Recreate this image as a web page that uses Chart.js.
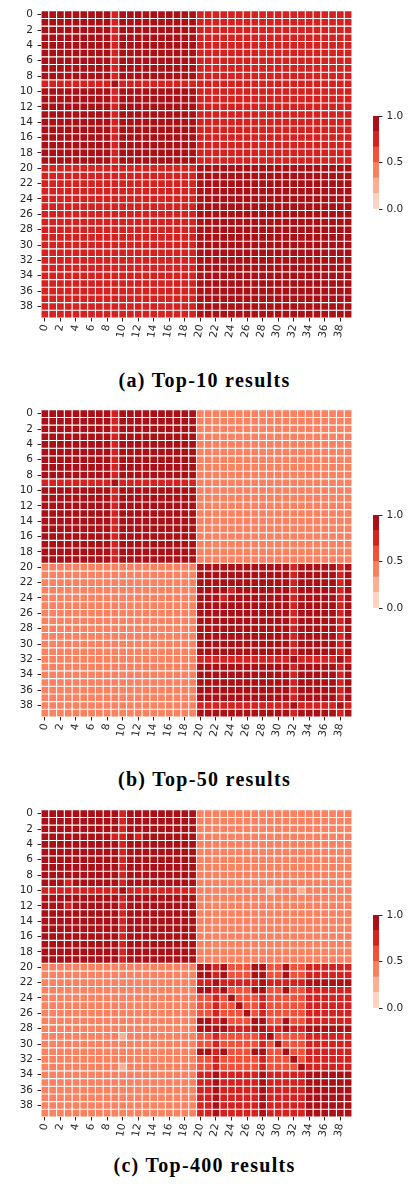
<!DOCTYPE html>
<html>
<head>
<meta charset="utf-8">
<title>Top-k result similarity heatmaps</title>
<script src="https://cdn.jsdelivr.net/npm/chart.js@4.4.1/dist/chart.umd.min.js"></script>
<style>
    html, body { margin: 0; padding: 0; background: #fff; }
    body { width: 409px; height: 1193px; position: relative; overflow: hidden; }
    canvas { position: absolute; }
    .caption {
        position: absolute; left: 0; width: 409px; text-align: center;
        font: bold 20px "Liberation Serif", serif; letter-spacing: 1.3px;
        color: #000; line-height: 22px;
    }
</style>
</head>
<body>
<canvas id="heat-a" width="409" height="350" style="left:0;top:0"></canvas>
<canvas id="cbar-a" width="54" height="125" style="left:355px;top:100px"></canvas>
<div class="caption" style="top:369px">(a) Top-10 results</div>

<canvas id="heat-b" width="409" height="350" style="left:0;top:399px"></canvas>
<canvas id="cbar-b" width="54" height="125" style="left:355px;top:499px"></canvas>
<div class="caption" style="top:768px">(b) Top-50 results</div>

<canvas id="heat-c" width="409" height="350" style="left:0;top:799px"></canvas>
<canvas id="cbar-c" width="54" height="125" style="left:355px;top:899px"></canvas>
<div class="caption" style="top:1154px">(c) Top-400 results</div>

<script>
// --- Data ---
// item ids on both axes
const itemLabels = ['0', '1', '2', '3', '4', '5', '6', '7', '8', '9',
    '10', '11', '12', '13', '14', '15', '16', '17', '18', '19',
    '20', '21', '22', '23', '24', '25', '26', '27', '28', '29',
    '30', '31', '32', '33', '34', '35', '36', '37', '38', '39'];

// colormap: 6 discrete Reds, one per value bin
const paletteReds = ['#fdd4c2', '#fcaf93', '#fc8161', '#f44f39', '#d52221', '#aa1016'];
const binEdges = [0, 1 / 6, 2 / 6, 3 / 6, 4 / 6, 5 / 6, 1];
const colorbarTicks = [0, 0.5, 1];

// representative similarity for each colour bin (digit in the rows below)
const levelValues = [0.08, 0.25, 0.42, 0.58, 0.75, 0.92];

// one string per row, one digit per column (bin 0..5)
const top10Rows = [
    '5555555554 5555555555 4444444444 4444444444', // 0
    '5555555554 5555555555 4444444444 4444444444',
    '5555555554 5555555555 4444444444 4444444444',
    '5555555554 5555555555 4444444444 4444444444',
    '5555555554 5555555555 4444444444 4444444444',
    '5555555554 5555555555 4444444444 4444444444',
    '5555555554 5555555555 4444444444 4444444444',
    '5555555554 5555555555 4444444444 4444444444',
    '5555555554 5555555555 4444444444 4444444444',
    '4444444445 4444444444 4444444444 4444444444', // 9
    '5555555554 5555555555 4444444444 4444444444', // 10
    '5555555554 5555555555 4444444444 4444444444',
    '5555555554 5555555555 4444444444 4444444444',
    '5555555554 5555555555 4444444444 4444444444',
    '5555555554 5555555555 4444444444 4444444444',
    '5555555554 5555555555 4444444444 4444444444',
    '5555555554 5555555555 4444444444 4444444444',
    '5555555554 5555555555 4444444444 4444444444',
    '5555555554 5555555555 4444444444 4444444444',
    '5555555554 5555555555 4444444444 4444444444',
    '4444444444 4444444444 5555555555 5555555555', // 20
    '4444444444 4444444444 5555555555 5555555555',
    '4444444444 4444444444 5555555555 5555555555',
    '4444444444 4444444444 5555555555 5555555555',
    '4444444444 4444444444 5555555555 5555555555',
    '4444444444 4444444444 5555555555 5555555555',
    '4444444444 4444444444 5555555555 5555555555',
    '4444444444 4444444444 5555555555 5555555555',
    '4444444444 4444444444 5555555555 5555555555',
    '4444444444 4444444444 5555555555 5555555555',
    '4444444444 4444444444 5555555555 5555555555', // 30
    '4444444444 4444444444 5555555555 5555555555',
    '4444444444 4444444444 5555555555 5555555555',
    '4444444444 4444444444 5555555555 5555555555',
    '4444444444 4444444444 5555555555 5555555555',
    '4444444444 4444444444 5555555555 5555555555',
    '4444444444 4444444444 5555555555 5555555555',
    '4444444444 4444444444 5555555555 5555555555',
    '4444444444 4444444444 5555555555 5555555555',
    '4444444444 4444444444 5555555555 5555555555'
];

const top50Rows = [
    '5555555554 5555555555 2222222222 2222222222', // 0
    '5555555554 5555555555 2222222222 2222222222',
    '5555555554 5555555555 2222222222 2222222222',
    '5555555554 5555555555 2222222222 2222222222',
    '5555555554 5555555555 2222222222 2222222222',
    '5555555554 5555555555 2222222222 2222222222',
    '5555555554 5555555555 2222222222 2222222222',
    '5555555554 5555555555 2222222222 2222222222',
    '5555555554 5555555555 2222222222 2222222222',
    '4444444445 4444444444 2222222222 2222222222', // 9
    '5555555554 5555555555 2222222222 2222222222', // 10
    '5555555554 5555555555 2222222222 2222222222',
    '5555555554 5555555555 2222222222 2222222222',
    '5555555554 5555555555 2222222222 2222222222',
    '5555555554 5555555555 2222222222 2222222222',
    '5555555554 5555555555 2222222222 2222222222',
    '5555555554 5555555555 2222222222 2222222222',
    '5555555554 5555555555 2222222222 2222222222',
    '5555555554 5555555555 2222222222 2222222222',
    '5555555554 5555555555 2222222222 2222222222',
    '2222222222 2222222222 5555555555 5545555545', // 20
    '2222222222 2222222222 5555555555 5545555545',
    '2222222222 2222222222 5555555555 5545555545',
    '2222222222 2222222222 5555455555 5545555545',
    '2222222222 2222222222 5554555555 5545555545',
    '2222222222 2222222222 5555555555 5545555545',
    '2222222222 2222222222 5555555555 5545555545',
    '2222222222 2222222222 5555555555 5545555545',
    '2222222222 2222222222 5555555555 5545555545',
    '2222222222 2222222222 5555555555 5545555545',
    '2222222222 2222222222 5555555555 5545555545', // 30
    '2222222222 2222222222 5555555555 5545555545',
    '2222222222 2222222222 4444444444 4454444454', // 32
    '2222222222 2222222222 5555555555 5545555545',
    '2222222222 2222222222 5555555555 5545555545',
    '2222222222 2222222222 5555555555 5545555545',
    '2222222222 2222222222 5555555555 5545555545',
    '2222222222 2222222222 5555555555 5545555545',
    '2222222222 2222222222 4444444444 4454444454', // 38
    '2222222222 2222222222 5555555555 5545555545'
];

const top400Rows = [
    '5555555555 4555555555 2222222222 2222222222', // 0
    '5555555555 4555555555 2222222222 2222222222',
    '5555555555 4555555555 2222222222 2222222222',
    '5555555554 4545555555 2222222222 2222222222', // 3
    '5555555555 4555555555 2222222222 2222222222',
    '5555555555 4555555555 2222222222 2222222222',
    '5555555555 4555555555 2222222222 2222222222',
    '5555555555 4555555555 2222222222 2222222222',
    '5555555555 4555555555 2222222222 2222222222',
    '5554555555 4555555555 2222222222 2222222222', // 9
    '4444444444 5444444444 2222222221 2221222222', // 10
    '5555555555 4555555555 2222222222 2222222222',
    '5554555555 4555555555 2222222222 2222222222', // 12
    '5555555555 4555555555 2222222222 2222222222',
    '5555555555 4555555555 2222222222 2222222222',
    '5555555555 4555555555 2222222222 2222222222',
    '5555555555 4555555555 2222222222 2222222222',
    '5555555555 4555555555 2222222222 2222222222',
    '5555555555 4555555555 2222222222 2222222222',
    '5555555555 4555555555 2222222222 2222222222',
    '2222222222 2222222222 5545333553 3533444444', // 20
    '2222222222 2222222222 5545333553 3533444444',
    '2222222222 2222222222 4454444454 4444555555',
    '2222222222 2222222222 5545333553 3533444444',
    '2222222222 2222222222 3343533343 3333444444',
    '2222222222 2222222222 3343353343 3333444444',
    '2222222222 2222222222 3343335343 3333444444',
    '2222222222 2222222222 5545333553 3533444444',
    '2222222222 2222222222 5555444554 4544555555', // 28
    '2222222222 1222222222 3343333345 3333444444',
    '2222222222 2222222222 3343333343 5333444444', // 30
    '2222222222 2222222222 5545333553 3533444444',
    '2222222222 2222222222 3343333343 3353444444',
    '2222222222 1222222222 3343333343 3335444444',
    '2222222222 2222222222 4454444454 4444555555',
    '2222222222 2222222222 4454444454 4444555555',
    '2222222222 2222222222 4454444454 4444555555',
    '2222222222 2222222222 4454444454 4444555555',
    '2222222222 2222222222 4454444454 4444555555',
    '2222222222 2222222222 4454444454 4444555555'
];

// --- Helpers ---
const toMatrix = rows => rows.map(r => r.replace(/ /g, '').split('').map(d => levelValues[+d]));

const colorFor = v => paletteReds[Math.min(paletteReds.length - 1, Math.floor(v * paletteReds.length))];

const INK = '#262626';
Chart.defaults.font.family = '"DejaVu Sans", sans-serif';
Chart.defaults.font.size = 10.5;
Chart.defaults.color = INK;

// only every other id gets a label and a tick mark
const evenTickColor = ctx => (ctx.index % 2 === 0 ? INK : 'rgba(0,0,0,0)');
const evenLabel = (value, index) => (index % 2 === 0 ? itemLabels[index] : '');

// --- Heatmap: one stacked bar dataset per row ---
function makeHeatmap(canvasId, rows) {
    const matrix = toMatrix(rows);

    const datasets = matrix.map((row, r) => ({
        label: itemLabels[r],
        data: row.map((v, c) => ({ x: itemLabels[c], y: 1, v: v })),
        backgroundColor: row.map(colorFor),
        borderColor: '#ffffff',
        borderWidth: 0.55,
        borderSkipped: false,
        inflateAmount: 0,
        barPercentage: 1,
        categoryPercentage: 1,
        stack: 'rows'
    }));

    new Chart(document.getElementById(canvasId), {
        type: 'bar',
        data: { labels: itemLabels, datasets: datasets },
        options: {
            responsive: false,
            animation: false,
            events: [],
            layout: { padding: { left: 0, right: 57, top: 7, bottom: 0 } },
            plugins: { legend: { display: false }, tooltip: { enabled: false } },
            scales: {
                x: {
                    type: 'category',
                    offset: true,
                    grid: { offset: false, drawOnChartArea: false, tickLength: 3.5, tickColor: evenTickColor },
                    border: { display: false },
                    ticks: { autoSkip: false, minRotation: 80, maxRotation: 80, padding: 2, callback: evenLabel },
                    afterFit: scale => { scale.height = 32; }
                },
                y: {
                    display: false,
                    stacked: true,
                    reverse: true,
                    min: 0,
                    max: itemLabels.length
                },
                rows: {
                    axis: 'y',
                    type: 'category',
                    labels: itemLabels,
                    position: 'left',
                    offset: true,
                    grid: { offset: false, drawOnChartArea: false, tickLength: 3.5, tickColor: evenTickColor },
                    border: { display: false },
                    ticks: { autoSkip: false, padding: 4.5, callback: evenLabel },
                    afterFit: scale => { scale.width = 41; }
                }
            }
        }
    });
}

// --- Discrete colorbar ---
function makeColorbar(canvasId) {
    new Chart(document.getElementById(canvasId), {
        type: 'bar',
        data: {
            labels: ['value'],
            datasets: paletteReds.map((color, i) => ({
                data: [[binEdges[i], binEdges[i + 1]]],
                backgroundColor: color,
                borderWidth: 0,
                barPercentage: 1,
                categoryPercentage: 1,
                grouped: false
            }))
        },
        options: {
            responsive: false,
            animation: false,
            events: [],
            layout: { padding: { left: 18, right: 0, top: 16, bottom: 16 } },
            plugins: { legend: { display: false }, tooltip: { enabled: false } },
            scales: {
                x: { display: false },
                y: {
                    position: 'right',
                    min: 0,
                    max: 1,
                    afterBuildTicks: scale => { scale.ticks = colorbarTicks.map(v => ({ value: v })); },
                    ticks: { padding: 4, callback: v => Number(v).toFixed(1) },
                    grid: { drawOnChartArea: false, tickLength: 3.5, tickColor: INK },
                    border: { display: false },
                    afterFit: scale => { scale.width = 30; }
                }
            }
        }
    });
}

makeHeatmap('heat-a', top10Rows);
makeHeatmap('heat-b', top50Rows);
makeHeatmap('heat-c', top400Rows);
makeColorbar('cbar-a');
makeColorbar('cbar-b');
makeColorbar('cbar-c');
</script>
</body>
</html>
